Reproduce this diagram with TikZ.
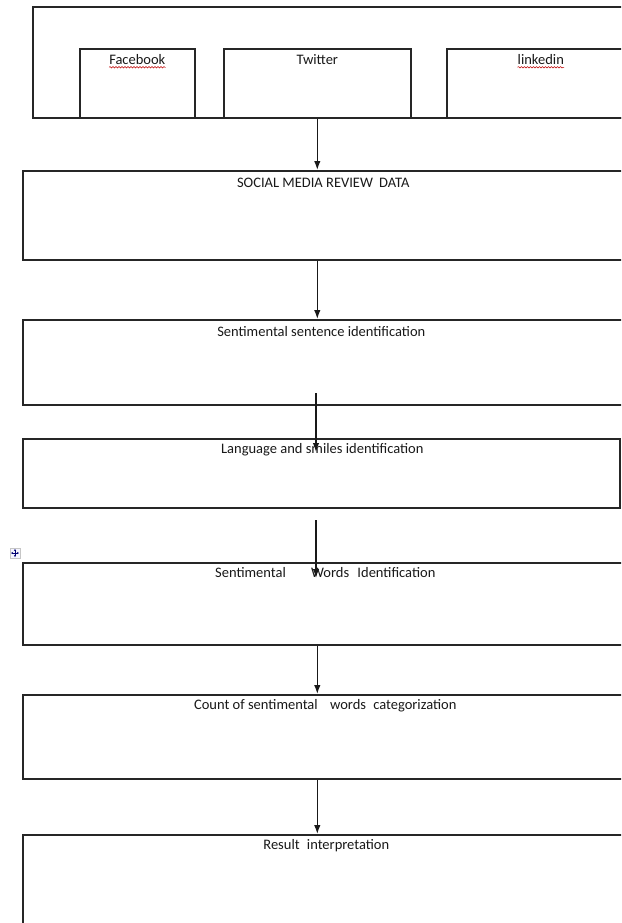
\documentclass[tikz,border=0pt]{standalone}
\usepackage{fontspec}
\setmainfont{Carlito}
\usetikzlibrary{arrows.meta,decorations.pathmorphing}
\begin{document}
\begin{tikzpicture}[x=1pt,y=-1pt,
  box/.style={draw=black!85, line width=1.6pt, inner sep=0pt, anchor=north west},
  lbl/.style={font=\fontsize{14.5}{17}\selectfont, text=black!90, inner sep=0pt},
  flow/.style={draw=black!90, line width=1.3pt, -{Latex[length=9pt,width=6.5pt]}},
  spell/.style={draw=red!75!black, line width=0.5pt, decorate, decoration={snake, amplitude=0.7pt, segment length=3pt}}]
\useasboundingbox (0,0) rectangle (621,923);
\clip (0,0) rectangle (621,923);
\fill[white] (0,0) rectangle (621,923);

% top container and source boxes
\node[box, minimum width=600pt, minimum height=111pt] (outer) at (32,6) {};
\node[box, minimum width=115pt, minimum height=69pt] (fb) at (79,48) {};
\node[box, minimum width=187pt, minimum height=69pt] (tw) at (223,48) {};
\node[box, minimum width=188pt, minimum height=69pt] (li) at (446,48) {};
\node[lbl] (fbT) at ([yshift=-12pt]fb.north) {Facebook};
\node[lbl] (twT) at ([yshift=-12pt]tw.north) {Twitter};
\node[lbl] (liT) at ([yshift=-12pt]li.north) {linkedin};
\draw[spell] ([yshift=-2pt]fbT.south west) -- ([yshift=-2pt]fbT.south east);
\draw[spell] ([yshift=-2pt]liT.south west) -- ([yshift=-2pt]liT.south east);

% process boxes
\node[box, minimum width=601pt, minimum height=89pt] (social) at (22,170) {};
\node[box, minimum width=601pt, minimum height=85pt] (sent) at (22,319) {};
\node[box, minimum width=597pt, minimum height=69pt] (lang) at (22,438) {};
\node[box, minimum width=601pt, minimum height=82pt] (words) at (22,562) {};
\node[box, minimum width=601pt, minimum height=84pt] (count) at (22,694) {};
\node[box, minimum width=601pt, minimum height=120pt] (result) at (22,834) {};

\node[lbl] (socialT) at ([yshift=-13pt]social.north) {SOCIAL MEDIA REVIEW\hspace{3pt} DATA};
\node[lbl] (sentT) at ([xshift=-2pt,yshift=-13pt]sent.north) {Sentimental sentence identification};
\node[lbl] (langT) at ([xshift=1pt,yshift=-12pt]lang.north) {Language and smiles identification};
\node[lbl] (wordsT) at ([xshift=2pt,yshift=-11pt]words.north) {Sentimental\hspace{22pt} Words\hspace{5pt} Identification};
\node[lbl] (countT) at ([xshift=2pt,yshift=-12pt]count.north) {Count of sentimental\hspace{9pt} words\hspace{4pt} categorization};
\node[lbl] (resultT) at ([xshift=3pt,yshift=-12pt]result.north) {Result\hspace{4pt} interpretation};

% connectors
\coordinate (c3a) at (316,393);
\coordinate (c3b) at (316,452);
\coordinate (c4a) at (316,520);
\coordinate (c4b) at (316,578);
\draw[flow] (tw.south) -- (tw.south |- social.north);
\draw[flow] (tw.south |- social.south) -- (tw.south |- sent.north);
\draw[flow] (c3a) -- (c3b);
\draw[flow] (c4a) -- (c4b);
\draw[flow] (tw.south |- words.south) -- (tw.south |- count.north);
\draw[flow] (tw.south |- count.south) -- (tw.south |- result.north);

% table move handle
\node[draw=gray!45, fill=blue!4, minimum size=10pt, inner sep=0pt] (handle) at (15,553) {};
\draw[blue!45!black, line width=0.4pt, {Stealth[length=2pt,width=2pt]}-{Stealth[length=2pt,width=2pt]}] ([yshift=4pt]handle.center) -- ([yshift=-4pt]handle.center);
\draw[blue!45!black, line width=0.4pt, {Stealth[length=2pt,width=2pt]}-{Stealth[length=2pt,width=2pt]}] ([xshift=-4pt]handle.center) -- ([xshift=4pt]handle.center);
\end{tikzpicture}
\end{document}
